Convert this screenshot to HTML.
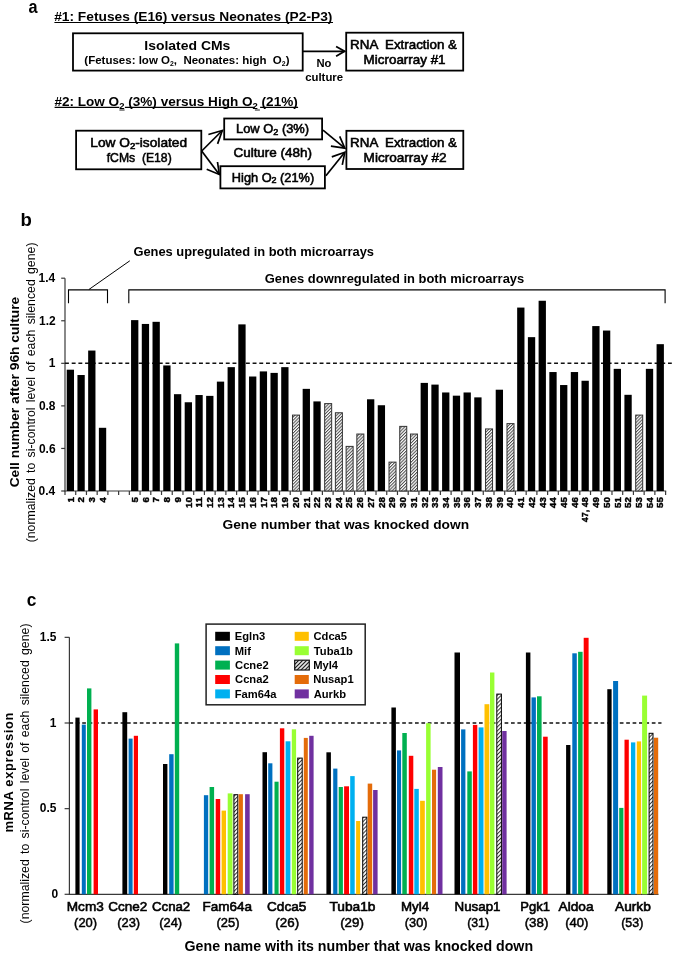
<!DOCTYPE html>
<html><head><meta charset="utf-8"><style>
html,body{margin:0;padding:0;background:#fff;}
svg{display:block;will-change:transform;}
text{font-family:"Liberation Sans",sans-serif;white-space:pre;}
</style></head><body>
<svg width="675" height="954" viewBox="0 0 675 954" font-family="Liberation Sans, sans-serif" xml:space="preserve">
<rect width="675" height="954" fill="#fff"/>
<defs>
<pattern id="hb" patternUnits="userSpaceOnUse" width="2.26" height="2.26" patternTransform="rotate(45)"><rect width="2.26" height="2.26" fill="#fff"/><rect width="1.0" height="2.26" fill="#4a4a4a"/></pattern>
<pattern id="hc" patternUnits="userSpaceOnUse" width="2.8" height="2.8" patternTransform="rotate(45)"><rect width="2.8" height="2.8" fill="#fff"/><rect width="1.0" height="2.8" fill="#333"/></pattern>
<pattern id="hl" patternUnits="userSpaceOnUse" width="2.8" height="2.8" patternTransform="rotate(45)"><rect width="2.8" height="2.8" fill="#fff"/><rect width="1.2" height="2.8" fill="#111"/></pattern>
</defs>
<text transform="translate(28.45,13.01) scale(0.8636,1)" font-size="18.80" font-weight="bold" fill="#000" >a</text>
<text transform="translate(54.18,20.60) scale(1.0187,1)" font-size="13.52" font-weight="bold" fill="#000" >#1: Fetuses (E16) versus Neonates (P2-P3)</text>
<line x1="54.40" y1="22.50" x2="333.00" y2="22.50" stroke="#000" stroke-width="1.2" />
<rect x="73.00" y="33.30" width="229.70" height="37.30" fill="none" stroke="#000" stroke-width="1.8" />
<text transform="translate(144.28,50.10) scale(1.0449,1)" font-size="13.37" font-weight="bold" fill="#000" >Isolated CMs</text>
<text transform="translate(84.35,63.90) scale(0.9787,1)" font-weight="bold" fill="#000"><tspan font-size="11.77" dy="0.00">(Fetuses: low O</tspan><tspan font-size="7.06" dy="2.35">2</tspan><tspan font-size="11.77" dy="-2.35">,  Neonates: high  O</tspan><tspan font-size="7.06" dy="2.35">2</tspan><tspan font-size="11.77" dy="-2.35">)</tspan></text>
<line x1="303.00" y1="51.30" x2="344.50" y2="51.30" stroke="#000" stroke-width="1.8" />
<path d="M336.1,46.5 L344.6,51.3 L336.1,56.3" stroke="#000" stroke-width="1.8" fill="none" />
<text transform="translate(316.46,66.50) scale(0.9912,1)" font-size="11.34" font-weight="bold" fill="#000" >No</text>
<text transform="translate(305.17,80.60) scale(0.9807,1)" font-size="11.63" font-weight="bold" fill="#000" >culture</text>
<rect x="346.20" y="32.70" width="117.00" height="37.90" fill="none" stroke="#000" stroke-width="1.8" />
<text transform="translate(350.10,48.50) scale(1.0832,1)" font-size="12.35" font-weight="normal" fill="#000" stroke="#000" stroke-width="0.55" >RNA  Extraction &amp;</text>
<text transform="translate(363.60,63.50) scale(1.1127,1)" font-size="12.06" font-weight="normal" fill="#000" stroke="#000" stroke-width="0.55" >Microarray #1</text>
<text transform="translate(54.38,105.70) scale(1.0256,1)" font-weight="bold" fill="#000"><tspan font-size="13.23" dy="0.00">#2: Low O</tspan><tspan font-size="9.26" dy="2.91">2</tspan><tspan font-size="13.23" dy="-2.91"> (3%) versus High O</tspan><tspan font-size="9.26" dy="2.91">2</tspan><tspan font-size="13.23" dy="-2.91"> (21%)</tspan></text>
<line x1="54.60" y1="107.30" x2="119.30" y2="107.30" stroke="#000" stroke-width="1.2" />
<line x1="124.90" y1="107.30" x2="254.70" y2="107.30" stroke="#000" stroke-width="1.2" />
<line x1="260.10" y1="107.30" x2="298.10" y2="107.30" stroke="#000" stroke-width="1.2" />
<line x1="119.40" y1="110.00" x2="124.60" y2="110.00" stroke="#000" stroke-width="0.9" />
<line x1="254.90" y1="110.00" x2="259.90" y2="110.00" stroke="#000" stroke-width="0.9" />
<rect x="76.10" y="130.70" width="125.20" height="38.60" fill="none" stroke="#000" stroke-width="1.8" />
<text transform="translate(90.28,147.00) scale(1.0844,1)" font-weight="normal" fill="#000" stroke="#000" stroke-width="0.55"><tspan font-size="12.65" dy="0.00">Low O</tspan><tspan font-size="8.85" dy="1.90">2</tspan><tspan font-size="12.65" dy="-1.90">-isolated</tspan></text>
<text transform="translate(106.73,161.50) scale(0.9015,1)" font-size="13.52" font-weight="normal" fill="#000" stroke="#000" stroke-width="0.55" >fCMs  (E18)</text>
<rect x="224.20" y="118.50" width="97.90" height="20.90" fill="none" stroke="#000" stroke-width="1.8" />
<text transform="translate(236.04,133.30) scale(1.0445,1)" font-weight="normal" fill="#000" stroke="#000" stroke-width="0.55"><tspan font-size="12.35" dy="0.00">Low O</tspan><tspan font-size="8.65" dy="1.85">2</tspan><tspan font-size="12.35" dy="-1.85"> (3%)</tspan></text>
<text transform="translate(233.43,157.10) scale(1.0917,1)" font-size="12.35" font-weight="normal" fill="#000" stroke="#000" stroke-width="0.55" >Culture (48h)</text>
<rect x="220.40" y="166.20" width="104.50" height="22.20" fill="none" stroke="#000" stroke-width="1.8" />
<text transform="translate(231.85,181.50) scale(1.0349,1)" font-weight="normal" fill="#000" stroke="#000" stroke-width="0.55"><tspan font-size="12.35" dy="0.00">High O</tspan><tspan font-size="8.65" dy="1.85">2</tspan><tspan font-size="12.35" dy="-1.85"> (21%)</tspan></text>
<rect x="346.40" y="130.80" width="116.90" height="38.20" fill="none" stroke="#000" stroke-width="1.8" />
<text transform="translate(350.10,146.60) scale(1.0832,1)" font-size="12.35" font-weight="normal" fill="#000" stroke="#000" stroke-width="0.55" >RNA  Extraction &amp;</text>
<text transform="translate(363.59,162.00) scale(1.1004,1)" font-size="12.35" font-weight="normal" fill="#000" stroke="#000" stroke-width="0.55" >Microarray #2</text>
<path d="M201.7,151 L222.3,130.5" stroke="#000" stroke-width="1.7" fill="none" />
<path d="M208.4,134.5 L222.3,130.5 L217.6,143.9" stroke="#000" stroke-width="1.7" fill="none" />
<path d="M201.7,151 L219.3,174.5" stroke="#000" stroke-width="1.7" fill="none" />
<path d="M206.7,169.3 L219.3,174.5 L217.5,162" stroke="#000" stroke-width="1.7" fill="none" />
<path d="M323,130.1 L344.8,148.1" stroke="#000" stroke-width="1.7" fill="none" />
<path d="M330.9,146.2 L344.8,148.1 L339.7,136.4" stroke="#000" stroke-width="1.7" fill="none" />
<path d="M325.9,175.8 L344.8,152.3" stroke="#000" stroke-width="1.7" fill="none" />
<path d="M331.8,156.9 L344.8,152.3 L342.3,164.9" stroke="#000" stroke-width="1.7" fill="none" />
<text transform="translate(20.41,226.23) scale(1.0653,1)" font-size="17.44" font-weight="bold" fill="#000" >b</text>
<line x1="65.00" y1="278.20" x2="65.00" y2="491.50" stroke="#3a3a3a" stroke-width="1.2" />
<line x1="64.40" y1="491.00" x2="666.20" y2="491.00" stroke="#3a3a3a" stroke-width="1.2" />
<line x1="61.20" y1="491.00" x2="65.00" y2="491.00" stroke="#3a3a3a" stroke-width="1.2" />
<line x1="61.20" y1="448.44" x2="65.00" y2="448.44" stroke="#3a3a3a" stroke-width="1.2" />
<line x1="61.20" y1="405.88" x2="65.00" y2="405.88" stroke="#3a3a3a" stroke-width="1.2" />
<line x1="61.20" y1="363.32" x2="65.00" y2="363.32" stroke="#3a3a3a" stroke-width="1.2" />
<line x1="61.20" y1="320.76" x2="65.00" y2="320.76" stroke="#3a3a3a" stroke-width="1.2" />
<line x1="61.20" y1="278.20" x2="65.00" y2="278.20" stroke="#3a3a3a" stroke-width="1.2" />
<line x1="65.00" y1="491.00" x2="65.00" y2="495.00" stroke="#3a3a3a" stroke-width="1.2" />
<line x1="75.72" y1="491.00" x2="75.72" y2="495.00" stroke="#3a3a3a" stroke-width="1.2" />
<line x1="86.45" y1="491.00" x2="86.45" y2="495.00" stroke="#3a3a3a" stroke-width="1.2" />
<line x1="97.17" y1="491.00" x2="97.17" y2="495.00" stroke="#3a3a3a" stroke-width="1.2" />
<line x1="107.90" y1="491.00" x2="107.90" y2="495.00" stroke="#3a3a3a" stroke-width="1.2" />
<line x1="118.62" y1="491.00" x2="118.62" y2="495.00" stroke="#3a3a3a" stroke-width="1.2" />
<line x1="129.35" y1="491.00" x2="129.35" y2="495.00" stroke="#3a3a3a" stroke-width="1.2" />
<line x1="140.07" y1="491.00" x2="140.07" y2="495.00" stroke="#3a3a3a" stroke-width="1.2" />
<line x1="150.80" y1="491.00" x2="150.80" y2="495.00" stroke="#3a3a3a" stroke-width="1.2" />
<line x1="161.52" y1="491.00" x2="161.52" y2="495.00" stroke="#3a3a3a" stroke-width="1.2" />
<line x1="172.25" y1="491.00" x2="172.25" y2="495.00" stroke="#3a3a3a" stroke-width="1.2" />
<line x1="182.97" y1="491.00" x2="182.97" y2="495.00" stroke="#3a3a3a" stroke-width="1.2" />
<line x1="193.70" y1="491.00" x2="193.70" y2="495.00" stroke="#3a3a3a" stroke-width="1.2" />
<line x1="204.42" y1="491.00" x2="204.42" y2="495.00" stroke="#3a3a3a" stroke-width="1.2" />
<line x1="215.15" y1="491.00" x2="215.15" y2="495.00" stroke="#3a3a3a" stroke-width="1.2" />
<line x1="225.88" y1="491.00" x2="225.88" y2="495.00" stroke="#3a3a3a" stroke-width="1.2" />
<line x1="236.60" y1="491.00" x2="236.60" y2="495.00" stroke="#3a3a3a" stroke-width="1.2" />
<line x1="247.32" y1="491.00" x2="247.32" y2="495.00" stroke="#3a3a3a" stroke-width="1.2" />
<line x1="258.05" y1="491.00" x2="258.05" y2="495.00" stroke="#3a3a3a" stroke-width="1.2" />
<line x1="268.77" y1="491.00" x2="268.77" y2="495.00" stroke="#3a3a3a" stroke-width="1.2" />
<line x1="279.50" y1="491.00" x2="279.50" y2="495.00" stroke="#3a3a3a" stroke-width="1.2" />
<line x1="290.23" y1="491.00" x2="290.23" y2="495.00" stroke="#3a3a3a" stroke-width="1.2" />
<line x1="300.95" y1="491.00" x2="300.95" y2="495.00" stroke="#3a3a3a" stroke-width="1.2" />
<line x1="311.67" y1="491.00" x2="311.67" y2="495.00" stroke="#3a3a3a" stroke-width="1.2" />
<line x1="322.40" y1="491.00" x2="322.40" y2="495.00" stroke="#3a3a3a" stroke-width="1.2" />
<line x1="333.12" y1="491.00" x2="333.12" y2="495.00" stroke="#3a3a3a" stroke-width="1.2" />
<line x1="343.85" y1="491.00" x2="343.85" y2="495.00" stroke="#3a3a3a" stroke-width="1.2" />
<line x1="354.57" y1="491.00" x2="354.57" y2="495.00" stroke="#3a3a3a" stroke-width="1.2" />
<line x1="365.30" y1="491.00" x2="365.30" y2="495.00" stroke="#3a3a3a" stroke-width="1.2" />
<line x1="376.02" y1="491.00" x2="376.02" y2="495.00" stroke="#3a3a3a" stroke-width="1.2" />
<line x1="386.75" y1="491.00" x2="386.75" y2="495.00" stroke="#3a3a3a" stroke-width="1.2" />
<line x1="397.47" y1="491.00" x2="397.47" y2="495.00" stroke="#3a3a3a" stroke-width="1.2" />
<line x1="408.20" y1="491.00" x2="408.20" y2="495.00" stroke="#3a3a3a" stroke-width="1.2" />
<line x1="418.93" y1="491.00" x2="418.93" y2="495.00" stroke="#3a3a3a" stroke-width="1.2" />
<line x1="429.65" y1="491.00" x2="429.65" y2="495.00" stroke="#3a3a3a" stroke-width="1.2" />
<line x1="440.38" y1="491.00" x2="440.38" y2="495.00" stroke="#3a3a3a" stroke-width="1.2" />
<line x1="451.10" y1="491.00" x2="451.10" y2="495.00" stroke="#3a3a3a" stroke-width="1.2" />
<line x1="461.82" y1="491.00" x2="461.82" y2="495.00" stroke="#3a3a3a" stroke-width="1.2" />
<line x1="472.55" y1="491.00" x2="472.55" y2="495.00" stroke="#3a3a3a" stroke-width="1.2" />
<line x1="483.27" y1="491.00" x2="483.27" y2="495.00" stroke="#3a3a3a" stroke-width="1.2" />
<line x1="494.00" y1="491.00" x2="494.00" y2="495.00" stroke="#3a3a3a" stroke-width="1.2" />
<line x1="504.72" y1="491.00" x2="504.72" y2="495.00" stroke="#3a3a3a" stroke-width="1.2" />
<line x1="515.45" y1="491.00" x2="515.45" y2="495.00" stroke="#3a3a3a" stroke-width="1.2" />
<line x1="526.17" y1="491.00" x2="526.17" y2="495.00" stroke="#3a3a3a" stroke-width="1.2" />
<line x1="536.90" y1="491.00" x2="536.90" y2="495.00" stroke="#3a3a3a" stroke-width="1.2" />
<line x1="547.62" y1="491.00" x2="547.62" y2="495.00" stroke="#3a3a3a" stroke-width="1.2" />
<line x1="558.35" y1="491.00" x2="558.35" y2="495.00" stroke="#3a3a3a" stroke-width="1.2" />
<line x1="569.08" y1="491.00" x2="569.08" y2="495.00" stroke="#3a3a3a" stroke-width="1.2" />
<line x1="579.80" y1="491.00" x2="579.80" y2="495.00" stroke="#3a3a3a" stroke-width="1.2" />
<line x1="590.52" y1="491.00" x2="590.52" y2="495.00" stroke="#3a3a3a" stroke-width="1.2" />
<line x1="601.25" y1="491.00" x2="601.25" y2="495.00" stroke="#3a3a3a" stroke-width="1.2" />
<line x1="611.98" y1="491.00" x2="611.98" y2="495.00" stroke="#3a3a3a" stroke-width="1.2" />
<line x1="622.70" y1="491.00" x2="622.70" y2="495.00" stroke="#3a3a3a" stroke-width="1.2" />
<line x1="633.42" y1="491.00" x2="633.42" y2="495.00" stroke="#3a3a3a" stroke-width="1.2" />
<line x1="644.15" y1="491.00" x2="644.15" y2="495.00" stroke="#3a3a3a" stroke-width="1.2" />
<line x1="654.88" y1="491.00" x2="654.88" y2="495.00" stroke="#3a3a3a" stroke-width="1.2" />
<line x1="665.60" y1="491.00" x2="665.60" y2="495.00" stroke="#3a3a3a" stroke-width="1.2" />
<text transform="translate(38.57,282.30) scale(0.9947,1)" font-size="12.06" font-weight="bold" fill="#000" >1.4</text>
<text transform="translate(38.98,324.86) scale(0.9947,1)" font-size="12.06" font-weight="bold" fill="#000" >1.2</text>
<text transform="translate(48.84,367.42) scale(0.9947,1)" font-size="12.06" font-weight="bold" fill="#000" >1</text>
<text transform="translate(38.88,409.98) scale(0.9947,1)" font-size="12.06" font-weight="bold" fill="#000" >0.8</text>
<text transform="translate(38.93,452.54) scale(0.9947,1)" font-size="12.06" font-weight="bold" fill="#000" >0.6</text>
<text transform="translate(38.57,495.10) scale(0.9947,1)" font-size="12.06" font-weight="bold" fill="#000" >0.4</text>
<line x1="65.00" y1="363.32" x2="671.80" y2="363.32" stroke="#111" stroke-width="1.4" stroke-dasharray="3.9,2.8"/>
<rect x="66.71" y="369.70" width="7.30" height="121.30" fill="#000" />
<text transform="translate(73.61,502.58) rotate(-90) scale(1.0400,1)" font-size="9.40" font-weight="bold" fill="#000" stroke="#000" stroke-width="0.4">1</text>
<rect x="77.44" y="375.02" width="7.30" height="115.98" fill="#000" />
<text transform="translate(84.34,502.46) rotate(-90) scale(1.0400,1)" font-size="9.40" font-weight="bold" fill="#000" stroke="#000" stroke-width="0.4">2</text>
<rect x="88.16" y="350.55" width="7.30" height="140.45" fill="#000" />
<text transform="translate(95.06,502.50) rotate(-90) scale(1.0400,1)" font-size="9.40" font-weight="bold" fill="#000" stroke="#000" stroke-width="0.4">3</text>
<rect x="98.89" y="427.80" width="7.30" height="63.20" fill="#000" />
<text transform="translate(105.79,502.80) rotate(-90) scale(1.0400,1)" font-size="9.40" font-weight="bold" fill="#000" stroke="#000" stroke-width="0.4">4</text>
<rect x="131.06" y="320.12" width="7.30" height="170.88" fill="#000" />
<text transform="translate(137.96,502.58) rotate(-90) scale(1.0400,1)" font-size="9.40" font-weight="bold" fill="#000" stroke="#000" stroke-width="0.4">5</text>
<rect x="141.79" y="323.95" width="7.30" height="167.05" fill="#000" />
<text transform="translate(148.69,502.50) rotate(-90) scale(1.0400,1)" font-size="9.40" font-weight="bold" fill="#000" stroke="#000" stroke-width="0.4">6</text>
<rect x="152.51" y="321.82" width="7.30" height="169.18" fill="#000" />
<text transform="translate(159.41,502.42) rotate(-90) scale(1.0400,1)" font-size="9.40" font-weight="bold" fill="#000" stroke="#000" stroke-width="0.4">7</text>
<rect x="163.24" y="365.45" width="7.30" height="125.55" fill="#000" />
<text transform="translate(170.14,502.54) rotate(-90) scale(1.0400,1)" font-size="9.40" font-weight="bold" fill="#000" stroke="#000" stroke-width="0.4">8</text>
<rect x="173.96" y="394.18" width="7.30" height="96.82" fill="#000" />
<text transform="translate(180.86,502.48) rotate(-90) scale(1.0400,1)" font-size="9.40" font-weight="bold" fill="#000" stroke="#000" stroke-width="0.4">9</text>
<rect x="184.69" y="402.26" width="7.30" height="88.74" fill="#000" />
<text transform="translate(191.59,507.88) rotate(-90) scale(1.0400,1)" font-size="9.40" font-weight="bold" fill="#000" stroke="#000" stroke-width="0.4">10</text>
<rect x="195.41" y="395.03" width="7.30" height="95.97" fill="#000" />
<text transform="translate(202.31,507.47) rotate(-90) scale(1.0400,1)" font-size="9.40" font-weight="bold" fill="#000" stroke="#000" stroke-width="0.4">11</text>
<rect x="206.14" y="395.88" width="7.30" height="95.12" fill="#000" />
<text transform="translate(213.04,507.90) rotate(-90) scale(1.0400,1)" font-size="9.40" font-weight="bold" fill="#000" stroke="#000" stroke-width="0.4">12</text>
<rect x="216.86" y="381.62" width="7.30" height="109.38" fill="#000" />
<text transform="translate(223.76,507.94) rotate(-90) scale(1.0400,1)" font-size="9.40" font-weight="bold" fill="#000" stroke="#000" stroke-width="0.4">13</text>
<rect x="227.59" y="367.15" width="7.30" height="123.85" fill="#000" />
<text transform="translate(234.49,508.23) rotate(-90) scale(1.0400,1)" font-size="9.40" font-weight="bold" fill="#000" stroke="#000" stroke-width="0.4">14</text>
<rect x="238.31" y="324.38" width="7.30" height="166.62" fill="#000" />
<text transform="translate(245.21,508.02) rotate(-90) scale(1.0400,1)" font-size="9.40" font-weight="bold" fill="#000" stroke="#000" stroke-width="0.4">15</text>
<rect x="249.04" y="376.51" width="7.30" height="114.49" fill="#000" />
<text transform="translate(255.94,507.94) rotate(-90) scale(1.0400,1)" font-size="9.40" font-weight="bold" fill="#000" stroke="#000" stroke-width="0.4">16</text>
<rect x="259.76" y="371.41" width="7.30" height="119.59" fill="#000" />
<text transform="translate(266.66,507.86) rotate(-90) scale(1.0400,1)" font-size="9.40" font-weight="bold" fill="#000" stroke="#000" stroke-width="0.4">17</text>
<rect x="270.49" y="372.90" width="7.30" height="118.10" fill="#000" />
<text transform="translate(277.39,507.98) rotate(-90) scale(1.0400,1)" font-size="9.40" font-weight="bold" fill="#000" stroke="#000" stroke-width="0.4">18</text>
<rect x="281.21" y="367.15" width="7.30" height="123.85" fill="#000" />
<text transform="translate(288.11,507.92) rotate(-90) scale(1.0400,1)" font-size="9.40" font-weight="bold" fill="#000" stroke="#000" stroke-width="0.4">19</text>
<rect x="292.49" y="415.10" width="7.00" height="75.90" fill="url(#hb)" stroke="#333" stroke-width="1" />
<text transform="translate(298.84,507.88) rotate(-90) scale(1.0400,1)" font-size="9.40" font-weight="bold" fill="#000" stroke="#000" stroke-width="0.4">20</text>
<rect x="302.66" y="388.86" width="7.30" height="102.14" fill="#000" />
<text transform="translate(309.56,508.02) rotate(-90) scale(1.0400,1)" font-size="9.40" font-weight="bold" fill="#000" stroke="#000" stroke-width="0.4">21</text>
<rect x="313.39" y="401.41" width="7.30" height="89.59" fill="#000" />
<text transform="translate(320.29,507.90) rotate(-90) scale(1.0400,1)" font-size="9.40" font-weight="bold" fill="#000" stroke="#000" stroke-width="0.4">22</text>
<rect x="324.66" y="403.61" width="7.00" height="87.39" fill="url(#hb)" stroke="#333" stroke-width="1" />
<text transform="translate(331.01,507.94) rotate(-90) scale(1.0400,1)" font-size="9.40" font-weight="bold" fill="#000" stroke="#000" stroke-width="0.4">23</text>
<rect x="335.39" y="412.76" width="7.00" height="78.24" fill="url(#hb)" stroke="#333" stroke-width="1" />
<text transform="translate(341.74,508.23) rotate(-90) scale(1.0400,1)" font-size="9.40" font-weight="bold" fill="#000" stroke="#000" stroke-width="0.4">24</text>
<rect x="346.11" y="446.39" width="7.00" height="44.61" fill="url(#hb)" stroke="#333" stroke-width="1" />
<text transform="translate(352.46,508.02) rotate(-90) scale(1.0400,1)" font-size="9.40" font-weight="bold" fill="#000" stroke="#000" stroke-width="0.4">25</text>
<rect x="356.84" y="434.04" width="7.00" height="56.96" fill="url(#hb)" stroke="#333" stroke-width="1" />
<text transform="translate(363.19,507.94) rotate(-90) scale(1.0400,1)" font-size="9.40" font-weight="bold" fill="#000" stroke="#000" stroke-width="0.4">26</text>
<rect x="367.01" y="399.28" width="7.30" height="91.72" fill="#000" />
<text transform="translate(373.91,507.86) rotate(-90) scale(1.0400,1)" font-size="9.40" font-weight="bold" fill="#000" stroke="#000" stroke-width="0.4">27</text>
<rect x="377.74" y="405.24" width="7.30" height="85.76" fill="#000" />
<text transform="translate(384.64,507.98) rotate(-90) scale(1.0400,1)" font-size="9.40" font-weight="bold" fill="#000" stroke="#000" stroke-width="0.4">28</text>
<rect x="389.01" y="462.13" width="7.00" height="28.87" fill="url(#hb)" stroke="#333" stroke-width="1" />
<text transform="translate(395.36,507.92) rotate(-90) scale(1.0400,1)" font-size="9.40" font-weight="bold" fill="#000" stroke="#000" stroke-width="0.4">29</text>
<rect x="399.74" y="426.38" width="7.00" height="64.62" fill="url(#hb)" stroke="#333" stroke-width="1" />
<text transform="translate(406.09,507.88) rotate(-90) scale(1.0400,1)" font-size="9.40" font-weight="bold" fill="#000" stroke="#000" stroke-width="0.4">30</text>
<rect x="410.46" y="434.04" width="7.00" height="56.96" fill="url(#hb)" stroke="#333" stroke-width="1" />
<text transform="translate(416.81,508.02) rotate(-90) scale(1.0400,1)" font-size="9.40" font-weight="bold" fill="#000" stroke="#000" stroke-width="0.4">31</text>
<rect x="420.64" y="382.90" width="7.30" height="108.10" fill="#000" />
<text transform="translate(427.54,507.90) rotate(-90) scale(1.0400,1)" font-size="9.40" font-weight="bold" fill="#000" stroke="#000" stroke-width="0.4">32</text>
<rect x="431.36" y="384.60" width="7.30" height="106.40" fill="#000" />
<text transform="translate(438.26,507.94) rotate(-90) scale(1.0400,1)" font-size="9.40" font-weight="bold" fill="#000" stroke="#000" stroke-width="0.4">33</text>
<rect x="442.09" y="392.47" width="7.30" height="98.53" fill="#000" />
<text transform="translate(448.99,508.23) rotate(-90) scale(1.0400,1)" font-size="9.40" font-weight="bold" fill="#000" stroke="#000" stroke-width="0.4">34</text>
<rect x="452.81" y="395.67" width="7.30" height="95.33" fill="#000" />
<text transform="translate(459.71,508.02) rotate(-90) scale(1.0400,1)" font-size="9.40" font-weight="bold" fill="#000" stroke="#000" stroke-width="0.4">35</text>
<rect x="463.54" y="392.47" width="7.30" height="98.53" fill="#000" />
<text transform="translate(470.44,507.94) rotate(-90) scale(1.0400,1)" font-size="9.40" font-weight="bold" fill="#000" stroke="#000" stroke-width="0.4">36</text>
<rect x="474.26" y="397.37" width="7.30" height="93.63" fill="#000" />
<text transform="translate(481.16,507.86) rotate(-90) scale(1.0400,1)" font-size="9.40" font-weight="bold" fill="#000" stroke="#000" stroke-width="0.4">37</text>
<rect x="485.54" y="428.94" width="7.00" height="62.06" fill="url(#hb)" stroke="#333" stroke-width="1" />
<text transform="translate(491.89,507.98) rotate(-90) scale(1.0400,1)" font-size="9.40" font-weight="bold" fill="#000" stroke="#000" stroke-width="0.4">38</text>
<rect x="495.71" y="389.71" width="7.30" height="101.29" fill="#000" />
<text transform="translate(502.61,507.92) rotate(-90) scale(1.0400,1)" font-size="9.40" font-weight="bold" fill="#000" stroke="#000" stroke-width="0.4">39</text>
<rect x="506.99" y="423.62" width="7.00" height="67.38" fill="url(#hb)" stroke="#333" stroke-width="1" />
<text transform="translate(513.34,507.88) rotate(-90) scale(1.0400,1)" font-size="9.40" font-weight="bold" fill="#000" stroke="#000" stroke-width="0.4">40</text>
<rect x="517.16" y="307.57" width="7.30" height="183.43" fill="#000" />
<text transform="translate(524.06,508.02) rotate(-90) scale(1.0400,1)" font-size="9.40" font-weight="bold" fill="#000" stroke="#000" stroke-width="0.4">41</text>
<rect x="527.89" y="337.15" width="7.30" height="153.85" fill="#000" />
<text transform="translate(534.79,507.90) rotate(-90) scale(1.0400,1)" font-size="9.40" font-weight="bold" fill="#000" stroke="#000" stroke-width="0.4">42</text>
<rect x="538.61" y="300.76" width="7.30" height="190.24" fill="#000" />
<text transform="translate(545.51,507.94) rotate(-90) scale(1.0400,1)" font-size="9.40" font-weight="bold" fill="#000" stroke="#000" stroke-width="0.4">43</text>
<rect x="549.34" y="372.04" width="7.30" height="118.96" fill="#000" />
<text transform="translate(556.24,508.23) rotate(-90) scale(1.0400,1)" font-size="9.40" font-weight="bold" fill="#000" stroke="#000" stroke-width="0.4">44</text>
<rect x="560.06" y="385.03" width="7.30" height="105.97" fill="#000" />
<text transform="translate(566.96,508.02) rotate(-90) scale(1.0400,1)" font-size="9.40" font-weight="bold" fill="#000" stroke="#000" stroke-width="0.4">45</text>
<rect x="570.79" y="372.04" width="7.30" height="118.96" fill="#000" />
<text transform="translate(577.69,507.94) rotate(-90) scale(1.0400,1)" font-size="9.40" font-weight="bold" fill="#000" stroke="#000" stroke-width="0.4">46</text>
<rect x="581.51" y="380.77" width="7.30" height="110.23" fill="#000" />
<text transform="translate(588.41,522.13) rotate(-90) scale(0.9565,1)" font-size="9.40" font-weight="bold" fill="#000" stroke="#000" stroke-width="0.4">47, 48</text>
<rect x="592.24" y="326.08" width="7.30" height="164.92" fill="#000" />
<text transform="translate(599.14,507.92) rotate(-90) scale(1.0400,1)" font-size="9.40" font-weight="bold" fill="#000" stroke="#000" stroke-width="0.4">49</text>
<rect x="602.96" y="330.55" width="7.30" height="160.45" fill="#000" />
<text transform="translate(609.86,507.88) rotate(-90) scale(1.0400,1)" font-size="9.40" font-weight="bold" fill="#000" stroke="#000" stroke-width="0.4">50</text>
<rect x="613.69" y="368.85" width="7.30" height="122.15" fill="#000" />
<text transform="translate(620.59,508.02) rotate(-90) scale(1.0400,1)" font-size="9.40" font-weight="bold" fill="#000" stroke="#000" stroke-width="0.4">51</text>
<rect x="624.41" y="394.81" width="7.30" height="96.19" fill="#000" />
<text transform="translate(631.31,507.90) rotate(-90) scale(1.0400,1)" font-size="9.40" font-weight="bold" fill="#000" stroke="#000" stroke-width="0.4">52</text>
<rect x="635.69" y="415.10" width="7.00" height="75.90" fill="url(#hb)" stroke="#333" stroke-width="1" />
<text transform="translate(642.04,507.94) rotate(-90) scale(1.0400,1)" font-size="9.40" font-weight="bold" fill="#000" stroke="#000" stroke-width="0.4">53</text>
<rect x="645.86" y="368.85" width="7.30" height="122.15" fill="#000" />
<text transform="translate(652.76,508.23) rotate(-90) scale(1.0400,1)" font-size="9.40" font-weight="bold" fill="#000" stroke="#000" stroke-width="0.4">54</text>
<rect x="656.59" y="344.17" width="7.30" height="146.83" fill="#000" />
<text transform="translate(663.49,508.02) rotate(-90) scale(1.0400,1)" font-size="9.40" font-weight="bold" fill="#000" stroke="#000" stroke-width="0.4">55</text>
<path d="M68.5,303.2 L68.5,289.9 L107.5,289.9 L107.5,303.2" stroke="#000" stroke-width="1.1" fill="none" />
<path d="M128.8,303.2 L128.8,289.9 L665.1,289.9 L665.1,303.2" stroke="#000" stroke-width="1.1" fill="none" />
<line x1="88.90" y1="289.50" x2="129.80" y2="260.80" stroke="#000" stroke-width="1.0" />
<text transform="translate(133.38,256.30) scale(0.9971,1)" font-size="12.94" font-weight="bold" fill="#000" >Genes upregulated in both microarrays</text>
<text transform="translate(264.68,283.10) scale(1.0001,1)" font-size="12.94" font-weight="bold" fill="#000" >Genes downregulated in both microarrays</text>
<text transform="translate(222.55,528.60) scale(1.0068,1)" font-size="13.66" font-weight="bold" fill="#000" >Gene number that was knocked down</text>
<text transform="translate(19.20,487.35) rotate(-90) scale(1.0364,1)" font-size="13.30" font-weight="bold" fill="#000">Cell number after 96h culture</text>
<text transform="translate(34.70,542.36) rotate(-90) scale(1.0000,1)" font-size="12.30" font-weight="normal" fill="#000" word-spacing="1.824">(normalized to si-control level of each silenced gene)</text>
<text transform="translate(26.64,605.51) scale(0.9320,1)" font-size="18.61" font-weight="bold" fill="#000" >c</text>
<line x1="69.40" y1="637.35" x2="69.40" y2="894.80" stroke="#3a3a3a" stroke-width="1.2" />
<line x1="68.80" y1="894.30" x2="658.50" y2="894.30" stroke="#3a3a3a" stroke-width="1.2" />
<line x1="64.60" y1="637.35" x2="69.40" y2="637.35" stroke="#3a3a3a" stroke-width="1.2" />
<text transform="translate(39.83,641.05) scale(0.9947,1)" font-size="12.06" font-weight="bold" fill="#000" >1.5</text>
<line x1="64.60" y1="723.00" x2="69.40" y2="723.00" stroke="#3a3a3a" stroke-width="1.2" />
<text transform="translate(49.84,726.70) scale(0.9947,1)" font-size="12.06" font-weight="bold" fill="#000" >1</text>
<line x1="64.60" y1="808.65" x2="69.40" y2="808.65" stroke="#3a3a3a" stroke-width="1.2" />
<text transform="translate(39.83,812.35) scale(0.9947,1)" font-size="12.06" font-weight="bold" fill="#000" >0.5</text>
<line x1="64.60" y1="894.30" x2="69.40" y2="894.30" stroke="#3a3a3a" stroke-width="1.2" />
<text transform="translate(51.41,898.00) scale(0.9947,1)" font-size="12.06" font-weight="bold" fill="#000" >0</text>
<line x1="69.40" y1="723.00" x2="661.50" y2="723.00" stroke="#111" stroke-width="1.3" stroke-dasharray="3.7,2.7"/>
<rect x="75.40" y="717.60" width="4.20" height="176.70" fill="#000000" />
<rect x="81.80" y="724.60" width="4.00" height="169.70" fill="#0070C0" />
<rect x="87.00" y="688.40" width="4.40" height="205.90" fill="#00B050" />
<rect x="93.60" y="709.40" width="4.40" height="184.90" fill="#FF0000" />
<rect x="122.40" y="712.20" width="4.80" height="182.10" fill="#000000" />
<rect x="128.60" y="738.60" width="4.00" height="155.70" fill="#0070C0" />
<rect x="133.80" y="735.80" width="4.20" height="158.50" fill="#FF0000" />
<rect x="163.00" y="764.00" width="4.40" height="130.30" fill="#000000" />
<rect x="169.20" y="754.20" width="4.40" height="140.10" fill="#0070C0" />
<rect x="174.80" y="643.40" width="4.40" height="250.90" fill="#00B050" />
<rect x="203.90" y="795.20" width="4.30" height="99.10" fill="#0070C0" />
<rect x="209.60" y="787.00" width="4.50" height="107.30" fill="#00B050" />
<rect x="215.70" y="799.00" width="4.50" height="95.30" fill="#FF0000" />
<rect x="221.60" y="810.60" width="4.40" height="83.70" fill="#FFC000" />
<rect x="227.70" y="793.40" width="4.80" height="100.90" fill="#99FF33" />
<rect x="233.90" y="794.70" width="3.90" height="99.60" fill="url(#hc)" stroke="#000" stroke-width="1" />
<rect x="238.60" y="794.20" width="4.30" height="100.10" fill="#E46C0A" />
<rect x="245.10" y="794.20" width="4.60" height="100.10" fill="#7030A0" />
<rect x="262.50" y="752.20" width="4.50" height="142.10" fill="#000000" />
<rect x="268.20" y="763.30" width="4.20" height="131.00" fill="#0070C0" />
<rect x="274.50" y="781.70" width="4.10" height="112.60" fill="#00B050" />
<rect x="279.90" y="728.30" width="4.40" height="166.00" fill="#FF0000" />
<rect x="285.60" y="741.30" width="4.80" height="153.00" fill="#00B0F0" />
<rect x="291.80" y="729.30" width="4.30" height="165.00" fill="#99FF33" />
<rect x="297.70" y="758.10" width="4.50" height="136.20" fill="url(#hc)" stroke="#000" stroke-width="1" />
<rect x="303.80" y="737.90" width="4.00" height="156.40" fill="#E46C0A" />
<rect x="309.20" y="735.80" width="4.40" height="158.50" fill="#7030A0" />
<rect x="326.40" y="752.30" width="4.50" height="142.00" fill="#000000" />
<rect x="333.20" y="768.60" width="4.20" height="125.70" fill="#0070C0" />
<rect x="338.70" y="787.00" width="4.20" height="107.30" fill="#00B050" />
<rect x="344.10" y="786.30" width="4.90" height="108.00" fill="#FF0000" />
<rect x="350.20" y="776.10" width="4.50" height="118.20" fill="#00B0F0" />
<rect x="356.10" y="821.00" width="4.10" height="73.30" fill="#FFC000" />
<rect x="362.70" y="817.20" width="4.20" height="77.10" fill="url(#hc)" stroke="#000" stroke-width="1" />
<rect x="367.70" y="783.60" width="4.50" height="110.70" fill="#E46C0A" />
<rect x="373.10" y="790.00" width="4.50" height="104.30" fill="#7030A0" />
<rect x="391.40" y="707.50" width="4.50" height="186.80" fill="#000000" />
<rect x="397.00" y="750.40" width="4.10" height="143.90" fill="#0070C0" />
<rect x="402.30" y="733.00" width="4.50" height="161.30" fill="#00B050" />
<rect x="408.80" y="755.80" width="4.50" height="138.50" fill="#FF0000" />
<rect x="414.30" y="788.90" width="4.50" height="105.40" fill="#00B0F0" />
<rect x="420.10" y="800.80" width="4.70" height="93.50" fill="#FFC000" />
<rect x="426.10" y="723.20" width="4.50" height="171.10" fill="#99FF33" />
<rect x="432.00" y="769.70" width="4.10" height="124.60" fill="#E46C0A" />
<rect x="437.80" y="767.00" width="4.70" height="127.30" fill="#7030A0" />
<rect x="454.50" y="652.50" width="5.50" height="241.80" fill="#000000" />
<rect x="461.10" y="729.40" width="4.30" height="164.90" fill="#0070C0" />
<rect x="467.30" y="771.40" width="4.50" height="122.90" fill="#00B050" />
<rect x="472.90" y="724.90" width="4.40" height="169.40" fill="#FF0000" />
<rect x="478.60" y="727.40" width="4.90" height="166.90" fill="#00B0F0" />
<rect x="484.50" y="704.20" width="4.80" height="190.10" fill="#FFC000" />
<rect x="490.00" y="672.50" width="4.40" height="221.80" fill="#99FF33" />
<rect x="496.80" y="694.10" width="4.60" height="200.20" fill="url(#hc)" stroke="#000" stroke-width="1" />
<rect x="502.20" y="731.00" width="4.40" height="163.30" fill="#7030A0" />
<rect x="525.90" y="652.50" width="4.50" height="241.80" fill="#000000" />
<rect x="531.50" y="697.40" width="4.40" height="196.90" fill="#0070C0" />
<rect x="537.00" y="696.30" width="4.60" height="198.00" fill="#00B050" />
<rect x="543.10" y="736.70" width="4.60" height="157.60" fill="#FF0000" />
<rect x="566.10" y="745.00" width="4.30" height="149.30" fill="#000000" />
<rect x="572.30" y="653.30" width="4.50" height="241.00" fill="#0070C0" />
<rect x="578.10" y="651.80" width="4.50" height="242.50" fill="#00B050" />
<rect x="583.70" y="637.80" width="4.90" height="256.50" fill="#FF0000" />
<rect x="607.30" y="689.20" width="4.30" height="205.10" fill="#000000" />
<rect x="613.10" y="681.00" width="5.00" height="213.30" fill="#0070C0" />
<rect x="619.20" y="807.90" width="4.20" height="86.40" fill="#00B050" />
<rect x="624.50" y="739.70" width="4.30" height="154.60" fill="#FF0000" />
<rect x="631.00" y="742.40" width="4.30" height="151.90" fill="#00B0F0" />
<rect x="636.80" y="741.40" width="4.30" height="152.90" fill="#FFC000" />
<rect x="642.10" y="695.60" width="5.00" height="198.70" fill="#99FF33" />
<rect x="649.10" y="733.30" width="3.90" height="161.00" fill="url(#hc)" stroke="#000" stroke-width="1" />
<rect x="654.00" y="737.70" width="4.20" height="156.60" fill="#E46C0A" />
<text transform="translate(66.79,910.80) scale(1.0387,1)" font-size="13.08" font-weight="normal" fill="#000" stroke="#000" stroke-width="0.6" >Mcm3</text>
<text transform="translate(74.10,927.00) scale(0.9879,1)" font-size="13.08" font-weight="normal" fill="#000" stroke="#000" stroke-width="0.5" >(20)</text>
<text transform="translate(108.32,910.80) scale(1.0330,1)" font-size="13.08" font-weight="normal" fill="#000" stroke="#000" stroke-width="0.6" >Ccne2</text>
<text transform="translate(117.20,927.00) scale(0.9833,1)" font-size="13.08" font-weight="normal" fill="#000" stroke="#000" stroke-width="0.5" >(23)</text>
<text transform="translate(151.94,910.80) scale(1.0138,1)" font-size="13.08" font-weight="normal" fill="#000" stroke="#000" stroke-width="0.6" >Ccna2</text>
<text transform="translate(159.20,927.00) scale(0.9833,1)" font-size="13.08" font-weight="normal" fill="#000" stroke="#000" stroke-width="0.5" >(24)</text>
<text transform="translate(202.49,910.80) scale(1.0312,1)" font-size="13.08" font-weight="normal" fill="#000" stroke="#000" stroke-width="0.6" >Fam64a</text>
<text transform="translate(216.50,927.00) scale(0.9879,1)" font-size="13.08" font-weight="normal" fill="#000" stroke="#000" stroke-width="0.5" >(25)</text>
<text transform="translate(267.02,910.80) scale(1.0402,1)" font-size="13.08" font-weight="normal" fill="#000" stroke="#000" stroke-width="0.6" >Cdca5</text>
<text transform="translate(275.37,927.00) scale(1.0202,1)" font-size="13.08" font-weight="normal" fill="#000" stroke="#000" stroke-width="0.5" >(26)</text>
<text transform="translate(329.40,910.80) scale(1.0519,1)" font-size="13.08" font-weight="normal" fill="#000" stroke="#000" stroke-width="0.6" >Tuba1b</text>
<text transform="translate(340.17,927.00) scale(1.0202,1)" font-size="13.08" font-weight="normal" fill="#000" stroke="#000" stroke-width="0.5" >(29)</text>
<text transform="translate(401.01,910.80) scale(1.0157,1)" font-size="13.08" font-weight="normal" fill="#000" stroke="#000" stroke-width="0.6" >Myl4</text>
<text transform="translate(404.81,927.00) scale(0.9740,1)" font-size="13.08" font-weight="normal" fill="#000" stroke="#000" stroke-width="0.5" >(30)</text>
<text transform="translate(454.50,910.80) scale(1.0213,1)" font-size="13.08" font-weight="normal" fill="#000" stroke="#000" stroke-width="0.6" >Nusap1</text>
<text transform="translate(467.14,927.00) scale(0.9417,1)" font-size="13.08" font-weight="normal" fill="#000" stroke="#000" stroke-width="0.5" >(31)</text>
<text transform="translate(520.34,910.80) scale(0.9920,1)" font-size="13.08" font-weight="normal" fill="#000" stroke="#000" stroke-width="0.6" >Pgk1</text>
<text transform="translate(524.67,927.00) scale(1.0202,1)" font-size="13.08" font-weight="normal" fill="#000" stroke="#000" stroke-width="0.5" >(38)</text>
<text transform="translate(558.57,910.80) scale(1.0460,1)" font-size="13.08" font-weight="normal" fill="#000" stroke="#000" stroke-width="0.6" >Aldoa</text>
<text transform="translate(565.19,927.00) scale(0.9971,1)" font-size="13.08" font-weight="normal" fill="#000" stroke="#000" stroke-width="0.5" >(40)</text>
<text transform="translate(614.97,910.80) scale(1.0500,1)" font-size="13.08" font-weight="normal" fill="#000" stroke="#000" stroke-width="0.6" >Aurkb</text>
<text transform="translate(621.23,927.00) scale(0.9509,1)" font-size="13.08" font-weight="normal" fill="#000" stroke="#000" stroke-width="0.5" >(53)</text>
<text transform="translate(184.53,950.70) scale(1.0185,1)" font-size="13.95" font-weight="bold" fill="#000" >Gene name with its number that was knocked down</text>
<text transform="translate(13.30,832.53) rotate(-90) scale(1.0000,1)" font-size="12.90" font-weight="bold" fill="#000" letter-spacing="0.676">mRNA expression</text>
<text transform="translate(28.90,923.46) rotate(-90) scale(1.0000,1)" font-size="12.30" font-weight="normal" fill="#000" word-spacing="1.838">(normalized to si-control level of each silenced gene)</text>
<rect x="206.10" y="624.10" width="159.10" height="80.70" fill="#fff" stroke="#222" stroke-width="1.5" />
<rect x="215.20" y="631.80" width="14.70" height="9.00" fill="#000000" />
<rect x="294.70" y="631.80" width="14.10" height="9.00" fill="#FFC000" />
<text transform="translate(234.76,640.10) scale(0.9879,1)" font-size="11.34" font-weight="bold" fill="#000" >Egln3</text>
<text transform="translate(313.45,640.10) scale(0.9879,1)" font-size="11.34" font-weight="bold" fill="#000" >Cdca5</text>
<rect x="215.20" y="646.20" width="14.70" height="9.00" fill="#0070C0" />
<rect x="294.70" y="646.20" width="14.10" height="9.00" fill="#99FF33" />
<text transform="translate(234.76,654.50) scale(0.9879,1)" font-size="11.34" font-weight="bold" fill="#000" >Mif</text>
<text transform="translate(313.79,654.50) scale(0.9879,1)" font-size="11.34" font-weight="bold" fill="#000" >Tuba1b</text>
<rect x="215.20" y="660.60" width="14.70" height="9.00" fill="#00B050" />
<rect x="294.70" y="660.20" width="14.60" height="9.80" fill="url(#hl)" stroke="#111" stroke-width="1.2" />
<text transform="translate(235.05,668.90) scale(0.9879,1)" font-size="11.34" font-weight="bold" fill="#000" >Ccne2</text>
<text transform="translate(313.16,668.90) scale(0.9879,1)" font-size="11.34" font-weight="bold" fill="#000" >Myl4</text>
<rect x="215.20" y="675.00" width="14.70" height="9.00" fill="#FF0000" />
<rect x="294.70" y="675.00" width="14.10" height="9.00" fill="#E46C0A" />
<text transform="translate(235.05,683.30) scale(0.9879,1)" font-size="11.34" font-weight="bold" fill="#000" >Ccna2</text>
<text transform="translate(313.16,683.30) scale(0.9879,1)" font-size="11.34" font-weight="bold" fill="#000" >Nusap1</text>
<rect x="215.20" y="689.40" width="14.70" height="9.00" fill="#00B0F0" />
<rect x="294.70" y="689.40" width="14.10" height="9.00" fill="#7030A0" />
<text transform="translate(234.76,697.70) scale(0.9879,1)" font-size="11.34" font-weight="bold" fill="#000" >Fam64a</text>
<text transform="translate(313.63,697.70) scale(0.9879,1)" font-size="11.34" font-weight="bold" fill="#000" >Aurkb</text>
</svg></body></html>
